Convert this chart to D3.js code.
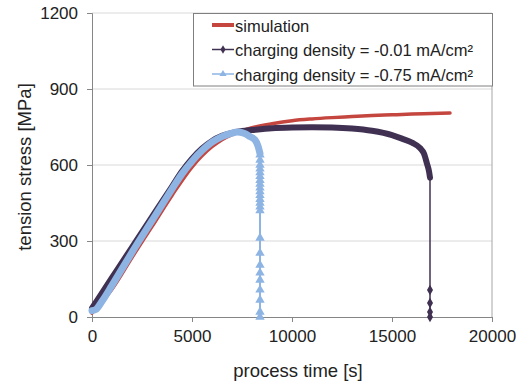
<!DOCTYPE html>
<html>
<head>
<meta charset="utf-8">
<style>
body { margin: 0; background: #fff; }
svg { font-family: "Liberation Sans", Arial, sans-serif; }
</style>
</head>
<body>
<div id="chart"></div>
<script src="https://d3js.org/d3.v7.min.js"></script>
<script>
// simulation curve
var simTime   = [0, 1000, 2000, 3000, 4000, 5000, 5500, 6000, 6500, 7000, 7500, 8000, 9000, 10000, 11000, 12000, 13000, 14000, 15000, 16000, 17000, 17900];
var simStress = [15, 110, 235, 357, 480, 592, 636, 672, 700, 720, 735, 747, 763, 775, 782, 787, 791, 795, 798, 801, 803, 805];

// charging density -0.01 mA/cm2
var lowTime   = [0, 1000, 2000, 3000, 4000, 4500, 5000, 5500, 6000, 6500, 7000, 7500, 8000, 9000, 10000, 11000, 12000, 13000, 14000, 15000, 15500, 16000, 16400, 16600, 16750, 16850, 16900];
var lowStress = [35, 155, 275, 395, 515, 575, 625, 665, 695, 715, 727, 734, 738, 745, 748, 749, 748, 744, 735, 718, 704, 688, 667, 645, 605, 575, 550];
var lowDropTime   = [16900, 16900, 16900, 16900];
var lowDropStress = [107, 55, 20, 0];

// charging density -0.75 mA/cm2
var highTime   = [0, 200, 500, 1000, 1500, 2000, 3000, 4000, 4500, 5000, 5500, 6000, 6500, 7000, 7250, 7600, 7900, 8150, 8300, 8400];
var highStress = [25, 30, 62, 125, 190, 255, 380, 505, 565, 615, 657, 690, 712, 726, 730, 725, 712, 699, 675, 645];
var highDropTime   = [8400, 8400, 8400, 8400, 8400, 8400, 8400, 8400, 8400, 8400, 8400, 8400, 8400, 8400, 8400, 8400, 8400, 8400, 8400, 8400, 8400, 8400, 8400, 8400];
var highDropStress = [640, 620, 600, 585, 570, 555, 540, 525, 510, 495, 480, 465, 450, 435, 420, 312, 252, 205, 174, 146, 107, 67, 20, 0];

var xTicks = [0, 5000, 10000, 15000, 20000];
var yTicks = [0, 300, 600, 900, 1200];
var legendLabels = ["simulation", "charging density = -0.01 mA/cm\u00b2", "charging density = -0.75 mA/cm\u00b2"];

var red = "#c4463f", dark = "#403152", blue = "#8db4e3";

var width = 523, height = 383;
var svg = d3.select("#chart").append("svg")
    .attr("width", width)
    .attr("height", height);

var x = d3.scaleLinear().domain([0, 20000]).range([92, 492]);
var y = d3.scaleLinear().domain([0, 1200]).range([317, 13]);

// gridlines
svg.append("g").selectAll("line")
    .data(yTicks.slice(1))
    .enter().append("line")
    .attr("x1", x(0)).attr("x2", x(20000))
    .attr("y1", function(d) { return y(d); })
    .attr("y2", function(d) { return y(d); })
    .attr("stroke", "#d9d9d9")
    .attr("stroke-width", 1);

// right border
svg.append("line")
    .attr("x1", x(20000)).attr("x2", x(20000))
    .attr("y1", y(1200)).attr("y2", y(0))
    .attr("stroke", "#a6a6a6");

// axes
var yAxis = svg.append("g")
    .attr("transform", "translate(" + x(0) + ",0)")
    .call(d3.axisLeft(y).tickValues(yTicks).tickSize(5).tickPadding(9).tickFormat(d3.format("d")));
var xAxis = svg.append("g")
    .attr("transform", "translate(0," + y(0) + ")")
    .call(d3.axisBottom(x).tickValues(xTicks).tickSize(5).tickPadding(8).tickFormat(d3.format("d")));
[xAxis, yAxis].forEach(function(a) {
  a.select(".domain").attr("stroke", "#868686");
  a.selectAll(".tick line").attr("stroke", "#868686");
  a.selectAll(".tick text").attr("font-size", "17px").attr("fill", "#222")
    .attr("font-family", "Liberation Sans, Arial, sans-serif");
});

function pts(t, v) { return t.map(function(d, i) { return [d, v[i]]; }); }
var line = d3.line()
    .x(function(d) { return x(d[0]); })
    .y(function(d) { return y(d[1]); })
    .curve(d3.curveMonotoneX);
var straight = d3.line()
    .x(function(d) { return x(d[0]); })
    .y(function(d) { return y(d[1]); });

// simulation
svg.append("path")
    .attr("d", line(pts(simTime, simStress)))
    .attr("fill", "none").attr("stroke", red).attr("stroke-width", 3.5)
    .attr("stroke-linecap", "round");

// -0.01
var lowPts = pts(lowTime, lowStress);
var lowDrop = pts(lowDropTime, lowDropStress);
svg.append("path")
    .attr("d", straight([lowPts[lowPts.length - 1]].concat(lowDrop)))
    .attr("fill", "none").attr("stroke", dark).attr("stroke-width", 1.5);
svg.append("path")
    .attr("d", line(lowPts))
    .attr("fill", "none").attr("stroke", dark).attr("stroke-width", 6)
    .attr("stroke-linecap", "round").attr("stroke-linejoin", "round");
svg.append("g").selectAll("path")
    .data(lowDrop)
    .enter().append("path")
    .attr("transform", function(d) { return "translate(" + x(d[0]) + "," + y(d[1]) + ")"; })
    .attr("d", d3.symbol().type(d3.symbolDiamond).size(32))
    .attr("fill", dark);

// -0.75
var highPts = pts(highTime, highStress);
var highDrop = pts(highDropTime, highDropStress);
svg.append("path")
    .attr("d", straight([highPts[highPts.length - 1]].concat(highDrop)))
    .attr("fill", "none").attr("stroke", blue).attr("stroke-width", 2);
svg.append("path")
    .attr("d", line(highPts))
    .attr("fill", "none").attr("stroke", blue).attr("stroke-width", 7)
    .attr("stroke-linecap", "round").attr("stroke-linejoin", "round");
svg.append("g").selectAll("path")
    .data(highDrop)
    .enter().append("path")
    .attr("transform", function(d) { return "translate(" + x(d[0]) + "," + y(d[1]) + ")"; })
    .attr("d", d3.symbol().type(d3.symbolTriangle).size(38))
    .attr("fill", blue);

// axis titles
svg.append("text")
    .attr("x", (x(0) + x(20000)) / 2 + 6).attr("y", 377)
    .attr("text-anchor", "middle")
    .attr("font-size", "18.5px").attr("fill", "#222")
    .text("process time [s]");
svg.append("text")
    .attr("text-anchor", "middle")
    .attr("transform", "translate(31,167)rotate(-90)")
    .attr("font-size", "18.5px").attr("fill", "#222")
    .text("tension stress [MPa]");

// legend
var lg = svg.append("g");
lg.append("rect")
    .attr("x", 193.5).attr("y", 13.5).attr("width", 299).attr("height", 72.5)
    .attr("fill", "#fff").attr("stroke", "#808080").attr("stroke-width", 1);
var legendColors = [red, dark, blue];
var legendWidths = [4, 1.5, 1.5];
var legendSymbols = [null, d3.symbolDiamond, d3.symbolTriangle];
legendLabels.forEach(function(lbl, i) {
  var cy = 25 + i * 24.5;
  lg.append("line")
      .attr("x1", 212).attr("x2", 234).attr("y1", cy).attr("y2", cy)
      .attr("stroke", legendColors[i]).attr("stroke-width", legendWidths[i]);
  if (legendSymbols[i]) {
    lg.append("path")
        .attr("transform", "translate(223," + cy + ")")
        .attr("d", d3.symbol().type(legendSymbols[i]).size(22))
        .attr("fill", legendColors[i]);
  }
  lg.append("text")
      .attr("x", 235).attr("y", cy + 6.5)
      .attr("font-size", "16.5px").attr("fill", "#222")
      .text(lbl);
});
</script>
</body>
</html>
